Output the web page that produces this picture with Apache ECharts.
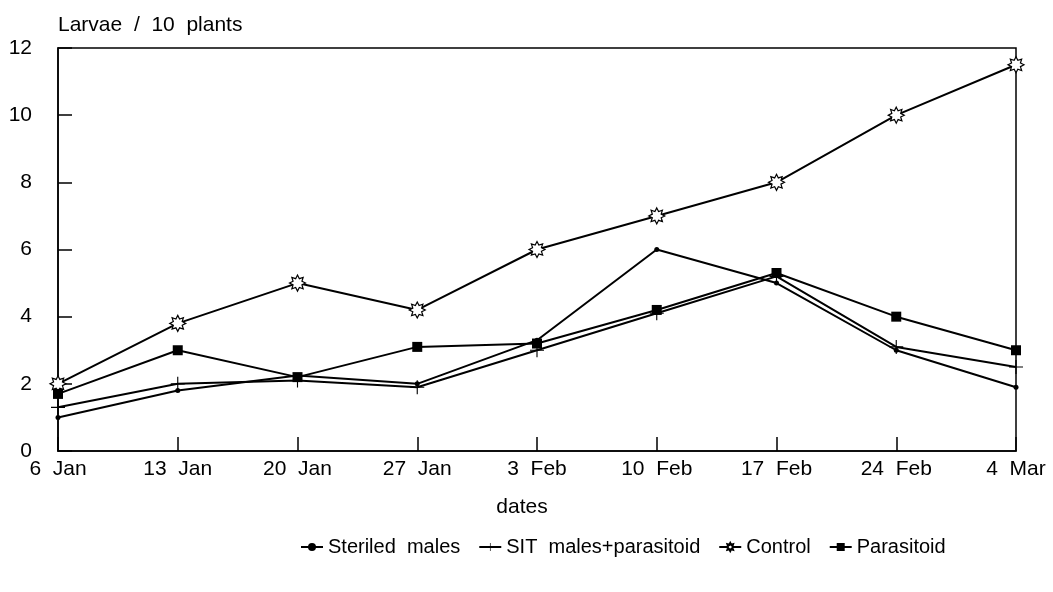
<!DOCTYPE html>
<html>
<head>
<meta charset="utf-8">
<script src="https://cdn.jsdelivr.net/npm/echarts@6/dist/echarts.min.js"></script>
<style>
html, body { margin: 0; padding: 0; background: #fff; }
#main { width: 1053px; height: 592px; }
</style>
</head>
<body>
<div id="main"></div>
<script>
var dates = ['6  Jan', '13  Jan', '20  Jan', '27  Jan', '3  Feb', '10  Feb', '17  Feb', '24  Feb', '4  Mar'];
var steriled = [1.0, 1.8, 2.25, 2.0, 3.3, 6.0, 5.0, 3.0, 1.9];
var sitParasitoid = [1.3, 2.0, 2.1, 1.9, 3.0, 4.1, 5.2, 3.1, 2.5];
var control = [2.0, 3.8, 5.0, 4.2, 6.0, 7.0, 8.0, 10.0, 11.5];
var parasitoid = [1.7, 3.0, 2.2, 3.1, 3.2, 4.2, 5.3, 4.0, 3.0];

var FONT = "'Liberation Sans', Arial, sans-serif";
// plus sign and sun-like star, drawn as filled paths
var plusPath = 'path://M4.6,0h0.8v4.6h4.6v0.8h-4.6v4.6h-0.8v-4.6h-4.6v-0.8h4.6z';
var starPath = (function () {
    var pts = [];
    for (var i = 0; i < 16; i++) {
        var r = i % 2 === 0 ? 10 : 6;
        var a = Math.PI * i / 8 - Math.PI / 2;
        pts.push((10 + r * Math.cos(a)).toFixed(2) + ',' + (10 + r * Math.sin(a)).toFixed(2));
    }
    return 'path://M' + pts.join(' L') + ' Z';
})();

var chart = echarts.init(document.getElementById('main'));
function lineSeries(name, data, symbol, size, fill) {
    return {
        name: name,
        type: 'line',
        data: data,
        symbol: symbol,
        symbolSize: size,
        showAllSymbol: true,
        lineStyle: { color: '#000', width: 2 },
        itemStyle: { color: fill, borderColor: '#000', borderWidth: fill === '#fff' ? 1.2 : 0 },
        animation: false
    };
}
var option = {
    backgroundColor: '#fff',
    textStyle: { fontFamily: FONT, color: '#000' },
    title: {
        text: 'Larvae  /  10  plants',
        left: 53,
        top: 10,
        textStyle: { fontFamily: FONT, fontSize: 21, fontWeight: 'normal', color: '#000' }
    },
    grid: {
        left: 58,
        right: 37,
        top: 48,
        bottom: 141,
        show: true,
        borderColor: '#000',
        borderWidth: 1.5,
        backgroundColor: 'transparent'
    },
    legend: {
        bottom: 30,
        left: 295,
        itemWidth: 22,
        itemHeight: 10,
        itemGap: 18,
        textStyle: { fontFamily: FONT, fontSize: 20, color: '#000' },
        data: ['Steriled  males', 'SIT  males+parasitoid', 'Control', 'Parasitoid']
    },
    xAxis: {
        type: 'category',
        data: dates,
        boundaryGap: false,
        name: 'dates',
        nameLocation: 'middle',
        nameGap: 46,
        nameTextStyle: { fontFamily: FONT, fontSize: 21, color: '#000', padding: [0, 30, 0, 0] },
        axisLine: { lineStyle: { color: '#000', width: 1.5 } },
        axisTick: { inside: true, length: 14, lineStyle: { color: '#000', width: 1.5 } },
        axisLabel: { color: '#000', fontSize: 21, fontFamily: FONT, margin: 8 },
        splitLine: { show: false }
    },
    yAxis: {
        type: 'value',
        min: 0,
        max: 12,
        interval: 2,
        axisLine: { show: true, lineStyle: { color: '#000', width: 1.5 } },
        axisTick: { show: true, inside: true, length: 14, lineStyle: { color: '#000', width: 1.5 } },
        axisLabel: { color: '#000', fontSize: 21, fontFamily: FONT, margin: 26 },
        splitLine: { show: false }
    },
    series: [
        lineSeries('Steriled  males', steriled, 'circle', 5, '#000'),
        lineSeries('SIT  males+parasitoid', sitParasitoid, plusPath, 14, '#000'),
        lineSeries('Control', control, starPath, 16, '#fff'),
        lineSeries('Parasitoid', parasitoid, 'rect', 10, '#000')
    ]
};
chart.setOption(option);
window.addEventListener('resize', function () {
    chart.resize();
});
</script>
</body>
</html>
